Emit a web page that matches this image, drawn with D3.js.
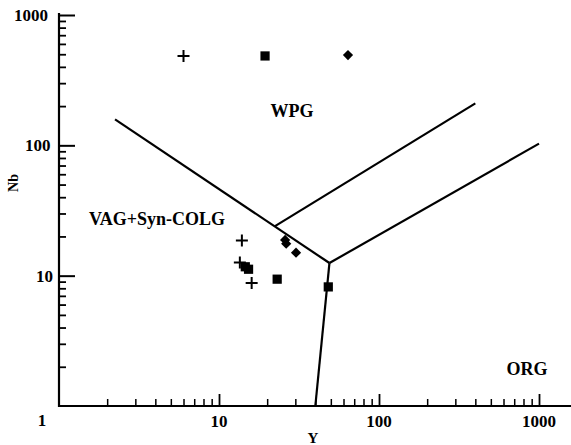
<!DOCTYPE html>
<html>
<head>
<meta charset="utf-8">
<script src="https://cdn.jsdelivr.net/npm/d3@7"></script>
<style>
  html, body { margin: 0; padding: 0; background: #fff; }
  svg { display: block; }
  text { font-family: "Liberation Serif", "Times New Roman", serif; font-weight: bold; fill: #000; }
</style>
</head>
<body>
<svg id="chart" width="571" height="445"></svg>
<script>
// ---- data ----
const plusY  = [6.0, 13.9, 13.5, 16.0];
const plusNb = [485, 18.6, 12.6, 8.8];
const squareY  = [19.4, 14.6, 15.3, 23.1, 48.2];
const squareNb = [485, 11.7, 11.2, 9.4, 8.2];
const diamondY  = [64, 25.9, 26.3, 30.3];
const diamondNb = [493, 18.8, 17.6, 15.0];

// boundary lines (Y, Nb)
const boundaryWPG_VAG = [[2.24, 158], [49, 12.5]];
const boundaryVAG_ORG = [[49, 12.5], [40, 1]];
const boundaryWPG_ORG = [[49, 12.5], [1000, 103]];
const boundaryDashed  = [[22.4, 24], [400, 210]];

const regionNames = ["WPG", "VAG+Syn-COLG", "ORG"];
const regionAt = [[28.6, 165], [4.1, 24.5], [841, 1.73]];

const xTickLabels = ["10", "100", "1000"];
const xTickValues = [10, 100, 1000];
const yTickLabels = ["10", "100", "1000"];
const yTickValues = [10, 100, 1000];
const xTitle = "Y";
const yTitle = "Nb";

// ---- chart ----
const svg = d3.select("#chart");
const x = d3.scaleLog().domain([1, 1000]).range([59, 539]);
const y = d3.scaleLog().domain([1, 1000]).range([406, 15]);

const minorVals = (lo, hi) => {
  const out = [];
  for (let d = lo; d < hi; d *= 10)
    for (let k = 2; k <= 9; k++) out.push(d * k);
  return out;
};

// Y axis
const gy = svg.append("g").attr("transform", `translate(${x(1)},0)`);
gy.call(d3.axisLeft(y).tickValues(minorVals(1, 1000)).tickSizeInner(-7).tickSizeOuter(0).tickFormat(""));
gy.selectAll(".domain").remove();
gy.selectAll(".tick line").attr("stroke", "#000").attr("stroke-width", 1.8);
const gy2 = svg.append("g").attr("transform", `translate(${x(1)},0)`);
gy2.call(d3.axisLeft(y).tickValues(yTickValues).tickSizeInner(-16).tickSizeOuter(0).tickFormat(""));
gy2.selectAll(".domain").remove();
gy2.selectAll(".tick line").attr("stroke", "#000").attr("stroke-width", 2);
svg.append("line").attr("x1", x(1)).attr("x2", x(1)).attr("y1", y(1) + 1).attr("y2", y(1000) - 2)
  .attr("stroke", "#000").attr("stroke-width", 2.2);

// X axis
const gx = svg.append("g").attr("transform", `translate(0,${y(1)})`);
gx.call(d3.axisBottom(x).tickValues(minorVals(1, 1000)).tickSizeInner(-7).tickSizeOuter(0).tickFormat(""));
gx.selectAll(".domain").remove();
gx.selectAll(".tick line").attr("stroke", "#000").attr("stroke-width", 1.5);
const gx2 = svg.append("g").attr("transform", `translate(0,${y(1)})`);
gx2.call(d3.axisBottom(x).tickValues(xTickValues).tickSizeInner(-12).tickSizeOuter(0).tickFormat(""));
gx2.selectAll(".domain").remove();
gx2.selectAll(".tick line").attr("stroke", "#000").attr("stroke-width", 1.8);
svg.append("line").attr("x1", x(1) - 1).attr("x2", 571).attr("y1", y(1)).attr("y2", y(1))
  .attr("stroke", "#000").attr("stroke-width", 2.2);

// tick labels
svg.selectAll(".ylab").data(yTickValues).enter().append("text")
  .attr("x", (d, i) => x(1) - 6 - i * 2.5).attr("y", d => y(d) + 6)
  .attr("text-anchor", "end").attr("font-size", 17)
  .text((d, i) => yTickLabels[i]);
svg.selectAll(".xlab").data(xTickValues).enter().append("text")
  .attr("x", d => x(d)).attr("y", y(1) + 21)
  .attr("text-anchor", "middle").attr("font-size", 17)
  .text((d, i) => xTickLabels[i]);
svg.append("text").attr("x", x(1) - 17).attr("y", y(1) + 20)
  .attr("text-anchor", "middle").attr("font-size", 17).text("1");

// titles
svg.append("text").attr("x", 313).attr("y", 443).attr("text-anchor", "middle")
  .attr("font-size", 15).text(xTitle);
svg.append("text").attr("transform", "translate(18,183) rotate(-90)")
  .attr("text-anchor", "middle").attr("font-size", 14).text(yTitle);

// boundaries
const line = d3.line().x(d => x(d[0])).y(d => y(d[1]));
[boundaryWPG_VAG, boundaryVAG_ORG, boundaryWPG_ORG, boundaryDashed].forEach(b => {
  svg.append("path").attr("d", line(b)).attr("fill", "none")
    .attr("stroke", "#000").attr("stroke-width", 2.2);
});

// region labels
svg.selectAll(".region").data(regionNames).enter().append("text")
  .attr("x", (d, i) => x(regionAt[i][0])).attr("y", (d, i) => y(regionAt[i][1]))
  .attr("text-anchor", "middle").attr("font-size", 18)
  .text(d => d);

// markers
const plusPts = plusY.map((v, i) => [v, plusNb[i]]);
svg.selectAll(".plus").data(plusPts).enter().append("path")
  .attr("transform", d => `translate(${x(d[0])},${y(d[1])})`)
  .attr("d", "M-6,0H6M0,-6V6").attr("stroke", "#000").attr("stroke-width", 2).attr("fill", "none");

const sqPts = squareY.map((v, i) => [v, squareNb[i]]);
svg.selectAll(".sq").data(sqPts).enter().append("path")
  .attr("transform", d => `translate(${x(d[0])},${y(d[1])})`)
  .attr("d", d3.symbol(d3.symbolSquare, 85)()).attr("fill", "#000");

const diPts = diamondY.map((v, i) => [v, diamondNb[i]]);
svg.selectAll(".di").data(diPts).enter().append("path")
  .attr("transform", d => `translate(${x(d[0])},${y(d[1])}) rotate(45)`)
  .attr("d", d3.symbol(d3.symbolSquare, 52)()).attr("fill", "#000");
</script>
</body>
</html>
